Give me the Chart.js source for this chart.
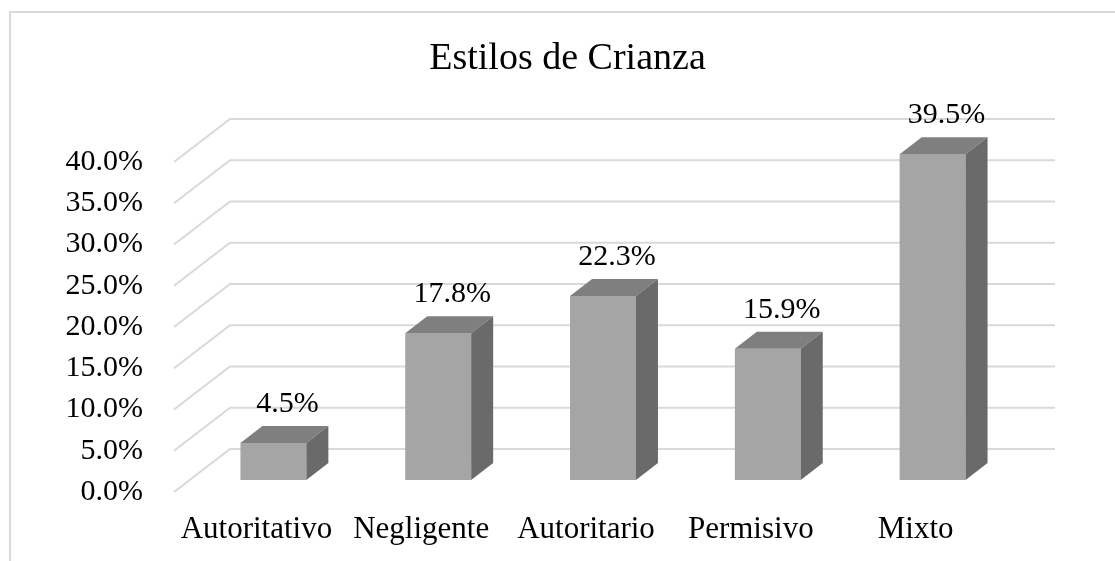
<!DOCTYPE html>
<html>
<head>
<meta charset="utf-8">
<script src="https://cdn.jsdelivr.net/npm/chart.js@4/dist/chart.umd.min.js"></script>
<style>
  html, body { margin: 0; padding: 0; background: #fff; }
  #wrap { width: 1115px; height: 561px; position: relative; }
</style>
</head>
<body>
<div id="wrap"><canvas id="myChart"></canvas></div>
<script>
var chartTitle = 'Estilos de Crianza';
var categories = ['Autoritativo', 'Negligente', 'Autoritario', 'Permisivo', 'Mixto'];
var percentValues = [4.5, 17.8, 22.3, 15.9, 39.5];
var yMin = 0, yMax = 40, yStep = 5;

var serif = "'Liberation Serif', 'Times New Roman', serif";

// 3d look: where the bar sits in depth, and how deep it is
var barShift = { x: 17, y: -12 };
var barDepth = { x: 22, y: -17 };
var wallShift = { x: 56, y: -43 };
var wallRight = 1055;

var frame3d = {
  id: 'frame3d',
  beforeDraw(chart) {
    let ctx = chart.ctx;
    ctx.save();
    ctx.fillStyle = '#fff';
    ctx.fillRect(0, 0, chart.width, chart.height);
    // outer frame (cut off at right and bottom)
    ctx.strokeStyle = '#d9d9d9';
    ctx.lineWidth = 2;
    ctx.beginPath();
    ctx.moveTo(10, chart.height);
    ctx.lineTo(10, 12);
    ctx.lineTo(chart.width, 12);
    ctx.stroke();
    // title
    ctx.fillStyle = '#000';
    ctx.font = '38px ' + serif;
    ctx.textAlign = 'center';
    ctx.textBaseline = 'alphabetic';
    ctx.fillText(chartTitle, 567.5, 69);
    ctx.restore();
  },
  beforeDatasetsDraw(chart) {
    let ctx = chart.ctx;
    let ys = chart.scales.y;
    let left = chart.chartArea.left;
    ctx.save();
    ctx.strokeStyle = '#d9d9d9';
    ctx.lineWidth = 2;
    ys.ticks.forEach(t => {
      let py = ys.getPixelForValue(t.value);
      ctx.beginPath();
      ctx.moveTo(left, py);
      ctx.lineTo(left + wallShift.x, py + wallShift.y);
      ctx.lineTo(wallRight, py + wallShift.y);
      ctx.stroke();
    });
    ctx.restore();
  },
  afterDatasetsDraw(chart) {
    let ctx = chart.ctx;
    let meta = chart.getDatasetMeta(0);
    ctx.save();
    meta.data.forEach((bar, i) => {
      let l = bar.x - bar.width / 2 + barShift.x;
      let r = bar.x + bar.width / 2 + barShift.x;
      let t = bar.y + barShift.y;
      let b = bar.base + barShift.y;
      let dx = barDepth.x, dy = barDepth.y;
      // front
      ctx.fillStyle = '#a5a5a5';
      ctx.fillRect(l, t, r - l, b - t);
      // top
      ctx.fillStyle = '#7f7f7f';
      ctx.beginPath();
      ctx.moveTo(l, t);
      ctx.lineTo(l + dx, t + dy);
      ctx.lineTo(r + dx, t + dy);
      ctx.lineTo(r, t);
      ctx.closePath();
      ctx.fill();
      // side
      ctx.fillStyle = '#6a6a6a';
      ctx.beginPath();
      ctx.moveTo(r, t);
      ctx.lineTo(r + dx, t + dy);
      ctx.lineTo(r + dx, b + dy);
      ctx.lineTo(r, b);
      ctx.closePath();
      ctx.fill();
      // value label
      ctx.fillStyle = '#000';
      ctx.font = '30px ' + serif;
      ctx.textAlign = 'center';
      ctx.textBaseline = 'alphabetic';
      ctx.fillText(percentValues[i].toFixed(1) + '%', (l + r) / 2 + 14, t + dy - 14);
    });
    ctx.restore();
  }
};

var ctxEl = document.getElementById('myChart');
var chart = new Chart(ctxEl, {
  type: 'bar',
  data: {
    labels: categories,
    datasets: [{
      data: percentValues,
      backgroundColor: 'rgba(0,0,0,0)',
      borderWidth: 0,
      categoryPercentage: 1,
      barPercentage: 0.4
    }]
  },
  options: {
    responsive: true,
    maintainAspectRatio: false,
    animation: false,
    layout: { padding: { left: 0, top: 162, right: 117, bottom: 0 } },
    plugins: {
      legend: { display: false },
      tooltip: { enabled: false },
      title: { display: false }
    },
    scales: {
      x: {
        grid: { display: false, drawTicks: false },
        border: { display: false },
        ticks: {
          color: '#000',
          font: { family: serif, size: 31 },
          padding: 19,
          maxRotation: 0,
          autoSkip: false
        },
        afterFit: s => { s.height = 69; }
      },
      y: {
        min: yMin,
        max: yMax,
        grid: { display: false, drawTicks: false },
        border: { display: false },
        ticks: {
          stepSize: yStep,
          color: '#000',
          font: { family: serif, size: 30 },
          padding: 31,
          callback: v => v.toFixed(1) + '%'
        },
        afterFit: s => { s.width = 174; }
      }
    }
  },
  plugins: [frame3d]
});
</script>
</body>
</html>
